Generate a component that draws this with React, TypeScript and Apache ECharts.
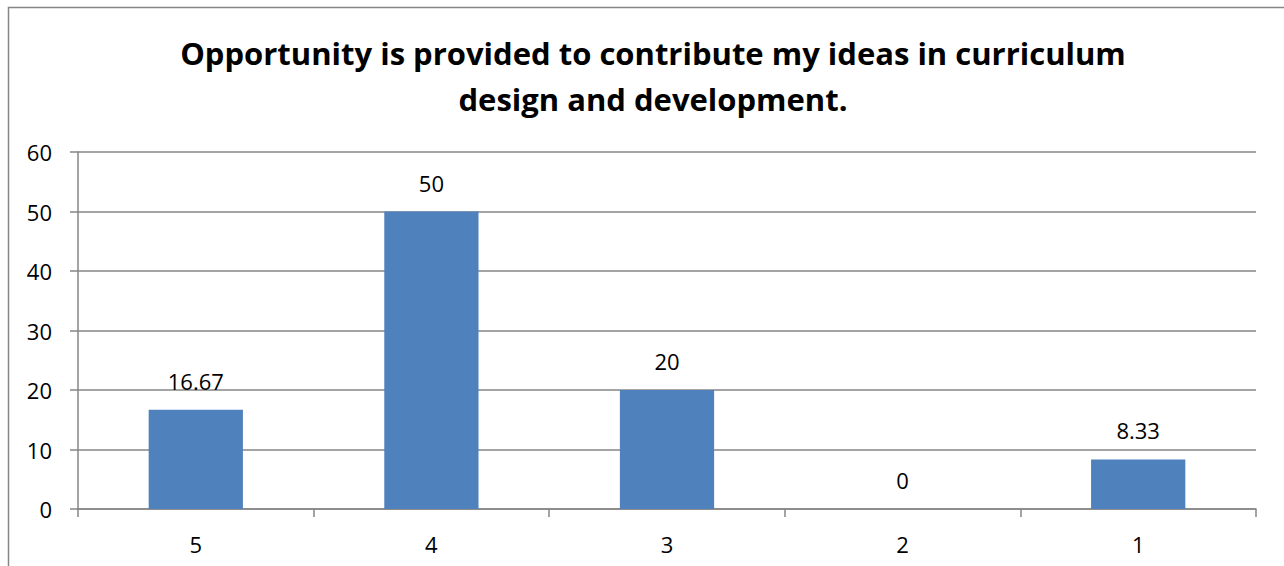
import React, { useEffect, useRef } from "react";
import * as echarts from "echarts";

const categories = ["5", "4", "3", "2", "1"];
const values = [16.67, 50, 20, 0, 8.33];
const yTicks = { min: 0, max: 60, interval: 10 };
const titleText = "Opportunity is provided to contribute my ideas in curriculum\ndesign and development.";

export default function App() {
  const ref = useRef<HTMLDivElement>(null);
  useEffect(() => {
    const chart = echarts.init(ref.current!, null, { renderer: "svg" });
    const font = "Open Sans, Noto Sans, sans-serif";
    chart.setOption({
      animation: false,
      backgroundColor: "#ffffff",
      title: {
        text: titleText,
        left: 648,
        top: 25,
        textAlign: "center",
        textStyle: {
          fontFamily: font,
          fontWeight: "bold",
          fontSize: 31,
          lineHeight: 46,
          color: "#000000",
        },
      },
      graphic: [
        {
          type: "rect",
          shape: { x: 8.5, y: 7.5, width: 1300, height: 600 },
          style: { fill: "none", stroke: "#868686", lineWidth: 1.5 },
          silent: true,
        },
      ],
      grid: { left: 78, right: 28, top: 152, bottom: 57 },
      xAxis: {
        type: "category",
        data: categories,
        axisLine: { lineStyle: { color: "#868686", width: 1.5 } },
        axisTick: { show: true, length: 8, lineStyle: { color: "#868686", width: 1.5 } },
        axisLabel: { color: "#000", fontSize: 22, fontFamily: font, margin: 24 },
      },
      yAxis: {
        type: "value",
        min: yTicks.min,
        max: yTicks.max,
        interval: yTicks.interval,
        axisLine: { show: true, lineStyle: { color: "#868686", width: 1.5 } },
        axisTick: { show: true, length: 8, lineStyle: { color: "#868686", width: 1.5 } },
        splitLine: { lineStyle: { color: "#868686", width: 1.5 } },
        axisLabel: { color: "#000", fontSize: 22, fontFamily: font, margin: 26 },
      },
      series: [
        {
          type: "bar",
          data: values,
          barWidth: "40%",
          itemStyle: { color: "#4F81BD" },
          label: {
            show: true,
            position: "top",
            distance: 18,
            color: "#000",
            fontSize: 22,
            fontFamily: font,
          },
        },
      ],
    });
    return () => chart.dispose();
  }, []);
  return (
    <div
      ref={ref}
      style={{ position: "absolute", left: 0, top: 0, width: 1284, height: 566 }}
    />
  );
}
